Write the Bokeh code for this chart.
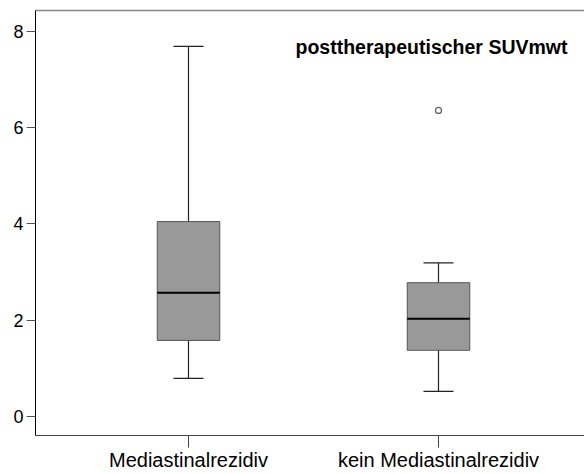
from bokeh.plotting import figure
from bokeh.models import Range1d, FixedTicker, LinearAxis, Label, ColumnDataSource
from bokeh.embed import file_html
from bokeh.resources import INLINE

# ---- data ----
groups = ["Mediastinalrezidiv", "kein Mediastinalrezidiv"]
positions = [1, 2]
whisker_low = [0.79, 0.52]
q1 = [1.58, 1.375]
median = [2.57, 2.03]
q3 = [4.05, 2.78]
whisker_high = [7.69, 3.19]
outlier_pos = [2]
outlier_val = [6.36]
y_ticks = [0, 2, 4, 6, 8]
title_text = "posttherapeutischer SUVmwt"

FONT = "Liberation Sans"
box_w = 0.25
cap_w = 0.12

p = figure(width=584, height=473, output_backend="svg", toolbar_location=None,
           x_range=Range1d(0.388, 2.584), y_range=Range1d(-0.396, 8.4375),
           min_border_left=35, min_border_right=0, min_border_top=10, min_border_bottom=30)
p.background_fill_color = "white"
p.border_fill_color = "white"
p.outline_line_color = None
p.grid.visible = False

src = ColumnDataSource(dict(x=positions, lo=whisker_low, q1=q1, med=median, q3=q3, hi=whisker_high,
                            cl=[x - cap_w / 2 for x in positions], cr=[x + cap_w / 2 for x in positions],
                            bl=[x - box_w / 2 for x in positions], br=[x + box_w / 2 for x in positions]))

# whiskers
p.segment(x0="x", y0="q3", x1="x", y1="hi", source=src, line_color="#222222", line_width=1.2)
p.segment(x0="x", y0="lo", x1="x", y1="q1", source=src, line_color="#222222", line_width=1.2)
p.segment(x0="cl", y0="hi", x1="cr", y1="hi", source=src, line_color="#222222", line_width=1.2)
p.segment(x0="cl", y0="lo", x1="cr", y1="lo", source=src, line_color="#222222", line_width=1.2)
# boxes
p.vbar(x="x", width=box_w, bottom="q1", top="q3", source=src,
       fill_color="#999999", line_color="#555555", line_width=1)
# medians
p.segment(x0="bl", y0="med", x1="br", y1="med", source=src, line_color="black", line_width=2)
# outliers
p.scatter(outlier_pos, outlier_val, marker="circle", size=6, fill_color="white",
          line_color="#666666", line_width=1.3)

# axes
xa = p.xaxis[0]
xa.ticker = FixedTicker(ticks=positions)
xa.major_label_overrides = {pos: g for pos, g in zip(positions, groups)}
xa.axis_line_color = "#444444"
xa.major_tick_line_color = "#444444"
xa.major_tick_out = 12
xa.major_tick_in = 0
xa.minor_tick_line_color = None
xa.major_label_standoff = 1
xa.major_label_text_font = FONT
xa.major_label_text_font_size = "20px"
xa.major_label_text_color = "black"

ya = p.yaxis[0]
ya.ticker = FixedTicker(ticks=y_ticks)
ya.axis_line_color = "black"
ya.major_tick_line_color = "#555555"
ya.major_tick_out = 9
ya.major_tick_in = 0
ya.minor_tick_line_color = None
ya.major_label_standoff = 3
ya.major_label_text_font = FONT
ya.major_label_text_font_size = "18px"
ya.major_label_text_color = "black"

# top frame line only (no right edge in the reference)
top = LinearAxis(ticker=FixedTicker(ticks=positions), major_label_overrides={x: " " for x in positions},
                 axis_line_color="#888888", axis_line_width=1.5,
                 major_tick_line_color=None, minor_tick_line_color=None,
                 major_label_text_font_size="1px", major_label_standoff=0,
                 major_tick_out=1, major_tick_in=0)
p.add_layout(top, "above")

p.add_layout(Label(x=1.428, y=7.67, text=title_text, text_font=FONT, text_font_style="bold",
                   text_font_size="19.5px", text_baseline="middle", text_align="left",
                   text_color="black"))

open("out.html", "w").write(file_html(p, INLINE))
